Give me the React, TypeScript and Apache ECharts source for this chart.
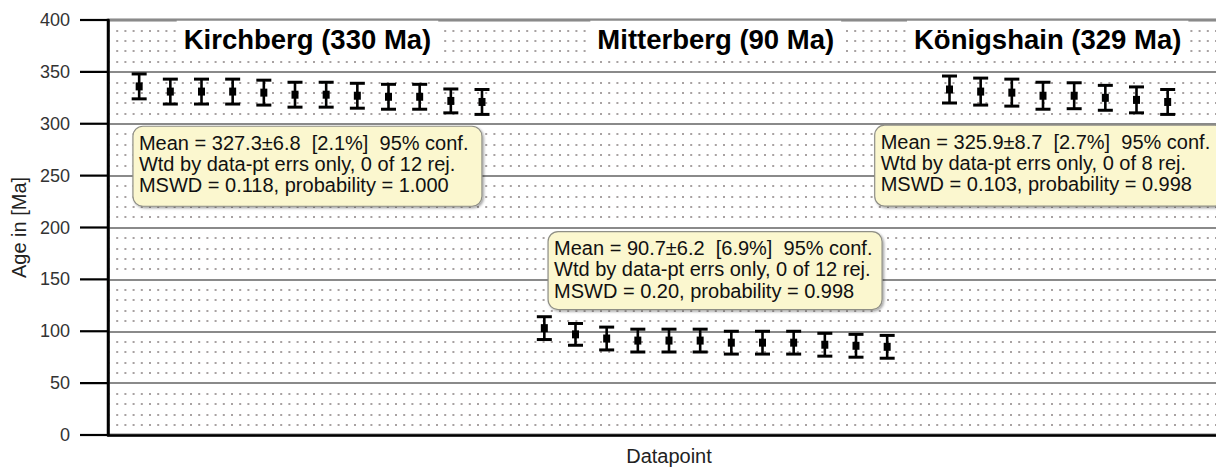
import React, { useEffect, useRef } from "react";
import * as echarts from "echarts";

// Datapoint numbers along the x axis (one empty slot between groups)
const kirchbergIdx = [1, 2, 3, 4, 5, 6, 7, 8, 9, 10, 11, 12];
const mitterbergIdx = [14, 15, 16, 17, 18, 19, 20, 21, 22, 23, 24, 25];
const koenigshainIdx = [27, 28, 29, 30, 31, 32, 33, 34];

// Ages [Ma] and 2-sigma errors
const kirchbergAge = [336, 331, 331, 331, 330, 328, 328, 327, 326, 326, 322, 321];
const kirchbergErr = [12, 12, 12, 12, 12, 12, 12, 12, 12, 12, 11.5, 12];
const mitterbergAge = [103, 97, 93, 91, 91, 91, 89, 89, 89, 87, 86, 85];
const mitterbergErr = [11, 10.5, 11, 11, 11, 11, 11, 11, 11, 11, 11, 11];
const koenigshainAge = [333, 331, 330, 327, 327, 325, 323, 321];
const koenigshainErr = [13, 13, 13, 13, 12.5, 12, 12.5, 12];

const yTicks = [0, 50, 100, 150, 200, 250, 300, 350, 400];

const groupTitles = ["Kirchberg (330 Ma)", "Mitterberg (90 Ma)", "Königshain (329 Ma)"];
const titleAnchors = [
  [6.4, 381],
  [19.5, 381],
  [30.15, 381],
];

const statBoxes = [
  {
    lines: [
      "Mean = 327.3±6.8  [2.1%]  95% conf.",
      "Wtd by data-pt errs only, 0 of 12 rej.",
      "MSWD = 0.118, probability = 1.000",
    ],
    anchor: [0.8, 297.6],
    width: 349,
    height: 80,
  },
  {
    lines: [
      "Mean = 90.7±6.2  [6.9%]  95% conf.",
      "Wtd by data-pt errs only, 0 of 12 rej.",
      "MSWD = 0.20, probability = 0.998",
    ],
    anchor: [14.12, 196.1],
    width: 334,
    height: 78,
  },
  {
    lines: [
      "Mean = 325.9±8.7  [2.7%]  95% conf.",
      "Wtd by data-pt errs only, 0 of 8 rej.",
      "MSWD = 0.103, probability = 0.998",
    ],
    anchor: [24.6, 298.6],
    width: 350,
    height: 81,
  },
];

const FONT = '"Liberation Sans", Arial, Helvetica, sans-serif';
const TICK_LEN = 28;

function toData(idx: number[], age: number[], err: number[]) {
  return idx.map((x, i) => [x, age[i], err[i]]);
}

function renderErrorBar(_params: any, api: any) {
  const x = api.value(0);
  const v = api.value(1);
  const e = api.value(2);
  const top = api.coord([x, v + e]);
  const bot = api.coord([x, v - e]);
  const mid = api.coord([x, v]);
  const hw = 7.5;
  return {
    type: "group",
    children: [
      { type: "line", shape: { x1: top[0], y1: top[1], x2: bot[0], y2: bot[1] }, style: { stroke: "#000", lineWidth: 2.6 } },
      { type: "line", shape: { x1: top[0] - hw, y1: top[1], x2: top[0] + hw, y2: top[1] }, style: { stroke: "#000", lineWidth: 3 } },
      { type: "line", shape: { x1: bot[0] - hw, y1: bot[1], x2: bot[0] + hw, y2: bot[1] }, style: { stroke: "#000", lineWidth: 3 } },
      { type: "rect", shape: { x: mid[0] - 3.5, y: mid[1] - 4, width: 7, height: 8 }, style: { fill: "#000" } },
    ],
  };
}

function errorSeries(name: string, data: number[][]) {
  return {
    name,
    type: "custom",
    renderItem: renderErrorBar,
    encode: { x: 0, y: 1 },
    data,
    z: 5,
  };
}

export default function App() {
  const ref = useRef<HTMLDivElement>(null);

  useEffect(() => {
    if (!ref.current) return;
    const chart = echarts.init(ref.current, null, { renderer: "svg" });
    chart.setOption({
      animation: false,
      backgroundColor: "#fff",
      grid: {
        left: 108,
        top: 20,
        right: -14,
        bottom: 33,
        show: true,
        backgroundColor: "#fff",
        borderColor: "#000",
        borderWidth: 2.5,
        outerBoundsMode: "none",
      },
      xAxis: {
        type: "value",
        min: 0,
        max: 36,
        name: "Datapoint",
        nameLocation: "middle",
        nameGap: 11,
        nameTextStyle: { fontSize: 20, color: "#222", fontFamily: FONT },
        axisLine: { show: true, lineStyle: { color: "#000", width: 2.5 } },
        axisTick: { show: false },
        axisLabel: { show: false },
        splitLine: { show: false },
      },
      yAxis: {
        type: "value",
        min: yTicks[0],
        max: yTicks[yTicks.length - 1],
        interval: 50,
        name: "Age in [Ma]",
        nameLocation: "middle",
        nameGap: 79,
        nameTextStyle: { fontSize: 20, color: "#222", fontFamily: FONT },
        axisLine: { show: true, lineStyle: { color: "#000", width: 2.5 } },
        axisTick: { show: false },
        axisLabel: { margin: TICK_LEN + 10, fontSize: 18, color: "#333", fontFamily: FONT },
        splitLine: { show: true, lineStyle: { color: "#8a8a8a", width: 2 } },
        minorTick: { show: false, splitNumber: 5 },
        minorSplitLine: {
          show: true,
          lineStyle: { color: "#a8a2a2", width: 2, type: [2, 6.2] },
        },
      },
      series: [
        errorSeries("Kirchberg", toData(kirchbergIdx, kirchbergAge, kirchbergErr)),
        errorSeries("Mitterberg", toData(mitterbergIdx, mitterbergAge, mitterbergErr)),
        errorSeries("Königshain", toData(koenigshainIdx, koenigshainAge, koenigshainErr)),
      ],
    });

    const px = (x: number, y: number) => chart.convertToPixel({ gridIndex: 0 } as any, [x, y]) as number[];

    // outward major ticks on the age axis
    const ticks = yTicks.map((t) => {
      const p = px(0, t);
      return {
        type: "line",
        z: 40,
        shape: { x1: p[0] - TICK_LEN, y1: p[1], x2: p[0], y2: p[1] },
        style: { stroke: "#000", lineWidth: 2.2 },
      };
    });

    const titles = groupTitles.map((t, i) => {
      const p = px(titleAnchors[i][0], titleAnchors[i][1]);
      return {
        type: "text",
        x: p[0],
        y: p[1],
        z: 20,
        style: {
          text: t,
          fontSize: 27.5,
          fontWeight: "bold",
          fontFamily: FONT,
          fill: "#000",
          align: "center",
          verticalAlign: "middle",
          backgroundColor: "#fff",
          padding: [3, 7],
          lineHeight: 32,
        },
      };
    });

    const boxes = statBoxes.map((b) => {
      const p = px(b.anchor[0], b.anchor[1]);
      return {
        type: "group",
        x: p[0],
        y: p[1],
        z: 30,
        children: [
          {
            type: "rect",
            shape: { x: 0, y: 0, width: b.width, height: b.height, r: 10 },
            style: {
              fill: "#fbf7cf",
              stroke: "#8f8f86",
              lineWidth: 1.2,
              shadowColor: "rgba(0,0,0,0.35)",
              shadowOffsetX: 1.5,
              shadowOffsetY: 1.5,
              shadowBlur: 2,
            },
          },
          {
            type: "text",
            x: 6,
            y: 6,
            style: {
              text: b.lines.join("\n"),
              fontSize: 20,
              fontFamily: FONT,
              fill: "#111",
              lineHeight: 21.3,
              align: "left",
              verticalAlign: "top",
            },
          },
        ],
      };
    });

    chart.setOption({ graphic: [...ticks, ...titles, ...boxes] });

    return () => chart.dispose();
  }, []);

  return (
    <div
      ref={ref}
      style={{ position: "fixed", left: 0, top: 0, width: 1216, height: 468, background: "#fff" }}
    />
  );
}
